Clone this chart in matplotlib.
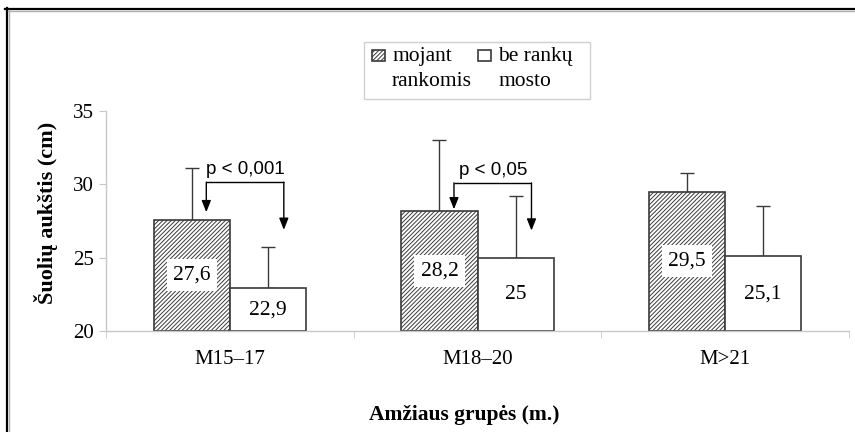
import numpy as np
import matplotlib
matplotlib.use("Agg")
import matplotlib.pyplot as plt
from matplotlib.patches import Rectangle
from matplotlib.lines import Line2D

# ---- data -----------------------------------------------------------------
groups = ["M15\u201317", "M18\u201320", "M>21"]
mojant = [27.6, 28.2, 29.5]          # jump height with arm swing
mojant_sd = [3.5, 4.8, 1.3]
be_mosto = [22.9, 25.0, 25.1]        # jump height without arm swing
be_mosto_sd = [2.8, 4.2, 3.4]
value_labels_a = ["27,6", "28,2", "29,5"]
value_labels_b = ["22,9", "25", "25,1"]

# significance brackets: group index, text, bracket level, left/right arrow tips
sig_groups = [0, 1]
sig_text = ["p < 0,001", "p < 0,05"]
sig_level = [30.15, 30.1]
sig_tip_left = [28.1, 28.3]
sig_tip_right = [26.9, 26.85]

yticks = [20, 25, 30, 35]

# ---- style ----------------------------------------------------------------
plt.rcParams["font.family"] = ["Liberation Serif", "DejaVu Serif"]
plt.rcParams["hatch.linewidth"] = 0.7
plt.rcParams["hatch.color"] = "#3a3a3a"
DARK = "#3a3a3a"
AXC = "#c8c8c8"
HATCH = "////////"

fig = plt.figure(figsize=(8.55, 4.32), dpi=100)
W, H = 855, 432
ax = fig.add_axes([106 / W, 1 - 331 / H, 743 / W, 220 / H])

x = np.arange(len(groups))
bw = 0.307

bars_a = ax.bar(x - bw / 2, np.array(mojant) - 20, bw, bottom=20,
                facecolor="white", edgecolor=DARK, hatch=HATCH, linewidth=1.2, zorder=2)
bars_b = ax.bar(x + bw / 2, np.array(be_mosto) - 20, bw, bottom=20,
                facecolor="white", edgecolor=DARK, linewidth=1.2, zorder=2)

# one-sided (upper) error bars
ax.errorbar(x - bw / 2, mojant, yerr=[np.zeros(3), mojant_sd], fmt="none",
            ecolor=DARK, elinewidth=1.0, capsize=5, capthick=1.0, zorder=1)
ax.errorbar(x + bw / 2, be_mosto, yerr=[np.zeros(3), be_mosto_sd], fmt="none",
            ecolor=DARK, elinewidth=1.0, capsize=5, capthick=1.0, zorder=1)

# value labels in the middle of each bar
for xi, v, s in zip(x - bw / 2, mojant, value_labels_a):
    ax.text(xi, (20 + v) / 2, s, ha="center", va="center", fontsize=15.5, zorder=4,
            bbox=dict(boxstyle="square,pad=0.3", facecolor="white", edgecolor="none"))
for xi, v, s in zip(x + bw / 2, be_mosto, value_labels_b):
    ax.text(xi, (20 + v) / 2, s, ha="center", va="center", fontsize=15.5, zorder=4)

# significance brackets with arrows
for g, t, lvl, tl, tr in zip(sig_groups, sig_text, sig_level, sig_tip_left, sig_tip_right):
    xl, xr = g - 0.095, g + 0.218
    ax.plot([xl, xr], [lvl, lvl], color="black", lw=1.0, zorder=5, solid_capstyle="butt")
    for xa, tip in ((xl, tl), (xr, tr)):
        ax.annotate("", xy=(xa, tip), xytext=(xa, lvl),
                    arrowprops=dict(arrowstyle="-|>,head_width=0.28,head_length=0.7",
                                    color="black", lw=1.0, shrinkA=0, shrinkB=0),
                    zorder=5)
    ax.text((xl + xr) / 2, lvl + 0.25, t, ha="center", va="bottom", fontsize=13.5,
            family=["Liberation Sans", "DejaVu Sans"], zorder=5)

# axes
ax.set_xlim(-0.5, 2.5)
ax.set_ylim(20, 35)
ax.set_yticks(yticks)
ax.set_xticks(x)
ax.set_xticklabels(groups)
ax.set_xticks([-0.5, 0.5, 1.5, 2.5], minor=True)
ax.tick_params(axis="x", which="major", length=0, pad=14, labelsize=15)
ax.tick_params(axis="x", which="minor", length=5, color=AXC, direction="out")
ax.tick_params(axis="y", length=5, color=AXC, pad=4, labelsize=15, direction="out")
for side in ("top", "right"):
    ax.spines[side].set_visible(False)
for side in ("left", "bottom"):
    ax.spines[side].set_color(AXC)
    ax.spines[side].set_linewidth(1.0)

ax.set_ylabel("\u0160uoli\u0173 auk\u0161tis (cm)", fontsize=16, fontweight="bold")
ax.yaxis.set_label_coords(-0.065, 0.536)
ax.set_xlabel("Am\u017eiaus grup\u0117s (m.)", fontsize=15.5, fontweight="bold")
ax.xaxis.set_label_coords(0.482, -0.336)

# legend drawn in figure pixels
def fx(px):
    return px / W

def fy(py):
    return 1 - py / H

fig.patches.append(Rectangle((fx(364), fy(99)), fx(590) - fx(364), fy(42) - fy(99),
                             transform=fig.transFigure, facecolor="white",
                             edgecolor="#d0d0d0", lw=1.0))
fig.patches.append(Rectangle((fx(372), fy(61)), fx(385) - fx(372), fy(50) - fy(61),
                             transform=fig.transFigure, facecolor="white",
                             edgecolor=DARK, hatch=HATCH, lw=1.2))
fig.patches.append(Rectangle((fx(478), fy(61)), fx(491) - fx(478), fy(50) - fy(61),
                             transform=fig.transFigure, facecolor="white",
                             edgecolor=DARK, lw=1.2))
fig.text(fx(392), fy(56), "mojant", fontsize=15.5, va="center", ha="left")
fig.text(fx(392), fy(82), "rankomis", fontsize=15.5, va="center", ha="left")
fig.text(fx(498), fy(56), "be rank\u0173", fontsize=15.5, va="center", ha="left")
fig.text(fx(498), fy(82), "mosto", fontsize=15.5, va="center", ha="left")

# outer frame: top and left edges only
fig.add_artist(Line2D([fx(5), 1], [fy(8.5), fy(8.5)], transform=fig.transFigure,
                      color="black", lw=1.6))
fig.add_artist(Line2D([fx(6.5), fx(6.5)], [0, fy(8)], transform=fig.transFigure,
                      color="black", lw=1.6))
fig.add_artist(Line2D([fx(8), 1], [fy(10.5), fy(10.5)], transform=fig.transFigure,
                      color="#b0b0b0", lw=1.0))
fig.add_artist(Line2D([fx(8.5), fx(8.5)], [0, fy(10)], transform=fig.transFigure,
                      color="#b0b0b0", lw=1.0))

fig.savefig("out.png", dpi=100, facecolor="white")
